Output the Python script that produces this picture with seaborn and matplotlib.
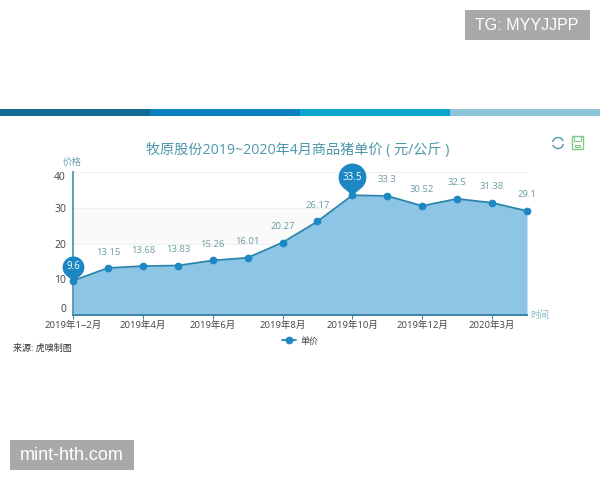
import numpy as np
import pandas as pd
import matplotlib
matplotlib.use("Agg")
import matplotlib.pyplot as plt
import seaborn as sns
from matplotlib.path import Path
from matplotlib.patches import Arc, Rectangle

months = ['2019年1~2月', '2019年3月', '2019年4月', '2019年5月', '2019年6月', '2019年7月', '2019年8月',
          '2019年9月', '2019年10月', '2019年11月', '2019年12月', '2020年1~2月', '2020年3月', '2020年4月']
price = [9.6, 13.15, 13.68, 13.83, 15.26, 16.01, 20.27, 26.17, 33.5, 33.3, 30.52, 32.5, 31.38, 29.1]
price_labels = ['9.6', '13.15', '13.68', '13.83', '15.26', '16.01', '20.27', '26.17', '33.5', '33.3',
                '30.52', '32.5', '31.38', '29.1']
tick_idx = [0, 2, 4, 6, 8, 10, 12]
y_ticks = [0, 10, 20, 30, 40]
pin_idx = [0, 8]

sns.set_style("white")
plt.rcParams['font.family'] = ['Open Sans', 'Noto Sans CJK SC', 'DejaVu Sans']

df = pd.DataFrame({'idx': range(len(months)), 'month': months, '单价': price})

W, H = 600, 480
fig = plt.figure(figsize=(6, 4.8), dpi=100)
ax = fig.add_axes([73 / W, 1 - 315 / H, (527 - 73) / W, (315 - 172) / H])

# full figure layer in pixel coords for the page stuff
page = fig.add_axes([0, 0, 1, 1], zorder=5)
page.set_xlim(0, W)
page.set_ylim(H, 0)
page.axis('off')
page.patch.set_alpha(0)

# grid and the pale band
ax.axhspan(20, 30, color='#fafafa', zorder=0)
for v in y_ticks[1:]:
    ax.axhline(v, color='#f0f0f0', lw=0.8, zorder=1)

ax.fill_between(df['idx'], df['单价'], 0, color='#8cc5e6', zorder=2, lw=0)
sns.lineplot(data=df, x='idx', y='单价', ax=ax, color='#2c84ad', lw=1.3, marker='o', markersize=4.8,
             markerfacecolor='#1c87c2', markeredgecolor='#1c87c2', label='单价', zorder=3, clip_on=False)

ax.set_xlim(0, len(months) - 1)
ax.set_ylim(0, 40)
ax.set_xlabel('')
ax.set_ylabel('')
ax.set_xticks(tick_idx)
ax.set_xticklabels([months[i] for i in tick_idx], fontsize=6.8, color='#444444')
ax.set_yticks(y_ticks)
ax.set_yticklabels([str(v) for v in y_ticks], fontsize=7.5, color='#444444')
ax.tick_params(axis='x', length=3, width=0.8, color='#3f86a6', pad=1.5, bottom=True)
ax.tick_params(axis='y', length=0, pad=5)
for lab, v in zip(ax.get_yticklabels(), y_ticks):
    if v == 0:
        lab.set_va('bottom')
    elif v == 40:
        lab.set_va('top')
for s in ['top', 'right']:
    ax.spines[s].set_visible(False)
ax.spines['left'].set_color('#5c9fb3')
ax.spines['left'].set_linewidth(1.4)
ax.spines['bottom'].set_color('#3f86a6')
ax.spines['bottom'].set_linewidth(1.4)


# map pin, tip at the origin, circle radius 1
def pin_path():
    t = np.linspace(-np.pi * 0.28, np.pi * 1.28, 60)
    cx = np.cos(t)
    cy = 1.3 + np.sin(t)
    verts = [(0, 0)] + list(zip(cx, cy)) + [(0, 0)]
    return Path(verts)


pin_sizes = {0: 36, 8: 46}
for i, (p, lab) in enumerate(zip(price, price_labels)):
    if i in pin_idx:
        ax.plot([i], [p], marker=pin_path(), markersize=pin_sizes[i], color='#1c87c2', mew=0,
                clip_on=False, zorder=6, ls='none')
        ax.annotate(lab, (i, p), xytext=(0, 1.3 * pin_sizes[i] / 4.6), textcoords='offset points',
                    ha='center', va='center', fontsize=7, color='white', zorder=7, annotation_clip=False)
    else:
        ax.annotate(lab, (i, p), xytext=(0, 11.5), textcoords='offset points', ha='center', va='center',
                    fontsize=6.8, color='#6c9ca3', zorder=7, annotation_clip=False)

leg = ax.legend(loc='center', bbox_to_anchor=(300, 341), bbox_transform=page.transData, frameon=False,
                fontsize=6.5, handlelength=1.6, handletextpad=0.4, labelcolor='#444444')

# coloured strip over the chart
strip_x = [0, 150, 300, 450]
strip_c = ['#0f6a94', '#0a82c0', '#09a5cf', '#8fc5d9']
for x0, c in zip(strip_x, strip_c):
    page.add_patch(Rectangle((x0, 109), 150, 7, color=c, lw=0))

page.text(298, 150, '牧原股份2019~2020年4月商品猪单价 ( 元/公斤 )', ha='center', va='center', fontsize=10.2, color='#4c97ab')
page.text(72, 162, '价格', ha='center', va='center', fontsize=6.8, color='#6ba3b0')
page.text(540, 315, '时间', ha='center', va='center', fontsize=6.8, color='#7fbcc4')
page.text(13, 348, '来源: 虎嗅制图', ha='left', va='center', fontsize=6.5, color='#333333')

# toolbox icons
page.add_patch(Arc((558, 143), 11, 11, theta1=190, theta2=340, color='#4f9aa6', lw=1))
page.add_patch(Arc((558, 143), 11, 11, theta1=10, theta2=160, color='#4f9aa6', lw=1))
page.add_patch(Rectangle((572, 136), 11, 13, fill=False, ec='#85c98a', lw=1))
page.add_patch(Rectangle((574, 136), 7, 5, fill=False, ec='#85c98a', lw=0.8))
page.add_patch(Rectangle((575, 145), 5, 2, fill=False, ec='#85c98a', lw=0.8))

# overlay stamps in the corners
page.add_patch(Rectangle((465, 10), 125, 30, color='#a9a9a9', lw=0))
page.text(527, 25, 'TG: MYYJJPP', ha='center', va='center', fontsize=11.5, color='white', family='Liberation Sans')
page.add_patch(Rectangle((10, 440), 124, 30, color='#a9a9a9', lw=0))
page.text(72, 455, 'mint-hth.com', ha='center', va='center', fontsize=13, color='white', family='Liberation Sans')

fig.savefig('out.png', dpi=100)
plt.close()
